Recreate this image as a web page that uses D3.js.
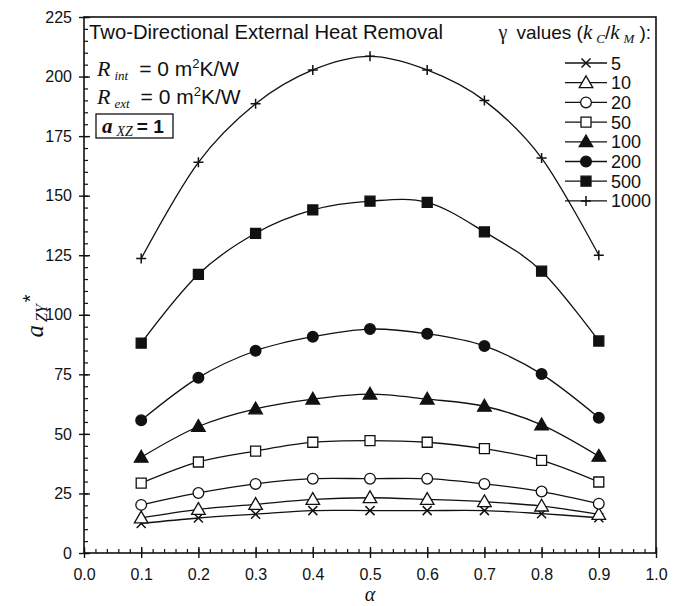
<!DOCTYPE html>
<html><head><meta charset="utf-8">
<script src="https://cdn.jsdelivr.net/npm/d3@7"></script>
<style>
body{margin:0;background:#fff;}
svg{display:block;}
text{font-family:Arial,"Liberation Sans",sans-serif;fill:#111;}
.serif{font-family:"Times New Roman","Liberation Serif",serif;}
</style></head>
<body>
<svg id="chart" width="692" height="606"></svg>
<script>
const alphas = [0.1,0.2,0.3,0.4,0.5,0.6,0.7,0.8,0.9];
const gammaLabels = ["5","10","20","50","100","200","500","1000"];
const g5    = [12.4,14.7,16.3,17.8,17.8,17.8,17.8,16.5,14.8];
const g10   = [14.7,18.3,20.4,22.5,23.2,22.5,21.5,19.7,16.2];
const g20   = [20.2,25.2,29.0,31.2,31.2,31.2,29.0,25.8,20.7];
const g50   = [29.3,38.2,42.8,46.5,47.2,46.5,43.8,38.9,29.8];
const g100  = [40.2,53.1,60.5,64.6,66.7,64.6,61.6,53.8,40.6];
const g200  = [55.7,73.6,84.9,90.8,94.0,92.0,86.9,75.1,56.8];
const g500  = [88.1,117.0,134.2,144.0,147.7,147.2,134.8,118.3,89.0];
const g1000 = [123.6,164.0,188.6,202.8,208.5,202.8,189.9,165.8,125.0];
const seriesValues = [g5,g10,g20,g50,g100,g200,g500,g1000];
const markerTypes = ["x","triOpen","circOpen","sqOpen","triFill","circFill","sqFill","plus"];
const xTicks = [0,0.1,0.2,0.3,0.4,0.5,0.6,0.7,0.8,0.9,1.0];
const yTicks = [0,25,50,75,100,125,150,175,200,225];

const svg = d3.select("#chart");
const x = d3.scaleLinear().domain([0,1]).range([84,656]);
const y = d3.scaleLinear().domain([0,225]).range([553,17]);
const ink = "#111";

// frame
svg.append("rect").attr("x",x(0)).attr("y",y(225)).attr("width",x(1)-x(0)).attr("height",y(0)-y(225))
  .attr("fill","none").attr("stroke",ink).attr("stroke-width",1.6);

// minor ticks inside
const xMinor = d3.range(0,1.0001,0.02);
const yMinor = d3.range(0,225.001,5);
svg.append("g").attr("transform",`translate(0,${y(0)})`)
  .call(d3.axisBottom(x).tickValues(xMinor).tickSize(-4).tickFormat(""))
  .call(g=>{g.select(".domain").remove();g.selectAll("line").attr("stroke",ink).attr("stroke-width",1.2);});
svg.append("g").attr("transform",`translate(${x(0)},0)`)
  .call(d3.axisLeft(y).tickValues(yMinor).tickSize(-4).tickFormat(""))
  .call(g=>{g.select(".domain").remove();g.selectAll("line").attr("stroke",ink).attr("stroke-width",1.2);});
// major ticks crossing + labels
const xAxis = svg.append("g").attr("transform",`translate(0,${y(0)})`)
  .call(d3.axisBottom(x).tickValues(xTicks).tickSize(5).tickPadding(11).tickFormat(d3.format(".1f")));
xAxis.select(".domain").remove();
xAxis.selectAll("line").attr("stroke",ink).attr("stroke-width",1.4).attr("y1",-6);
xAxis.selectAll("text").attr("font-size",16).attr("font-family","Arial").attr("fill","#222");
const yAxis = svg.append("g").attr("transform",`translate(${x(0)},0)`)
  .call(d3.axisLeft(y).tickValues(yTicks).tickSize(5).tickPadding(7).tickFormat(d3.format("d")));
yAxis.select(".domain").remove();
yAxis.selectAll("line").attr("stroke",ink).attr("stroke-width",1.4).attr("x1",6);
yAxis.selectAll("text").attr("font-size",16).attr("font-family","Arial").attr("fill","#222");

// lines
const line = d3.line().x((d,i)=>x(alphas[i])).y(d=>y(d)).curve(d3.curveCatmullRom.alpha(0));
seriesValues.forEach(vals=>{
  svg.append("path").attr("d",line(vals)).attr("fill","none").attr("stroke",ink).attr("stroke-width",1.3);
});

function drawMarker(g,type,cx,cy){
  const sw=1.3;
  if(type==="x"){
    const s=4.5;
    g.append("path").attr("d",`M${cx-s},${cy-s}L${cx+s},${cy+s}M${cx-s},${cy+s}L${cx+s},${cy-s}`)
      .attr("stroke",ink).attr("stroke-width",1.5).attr("fill","none");
  } else if(type==="plus"){
    const s=5;
    g.append("path").attr("d",`M${cx-s},${cy}L${cx+s},${cy}M${cx},${cy-s}L${cx},${cy+s}`)
      .attr("stroke",ink).attr("stroke-width",1.5).attr("fill","none");
  } else {
    let sym, size, fill;
    if(type.startsWith("tri")){sym=d3.symbolTriangle;size=80;}
    else if(type.startsWith("circ")){sym=d3.symbolCircle;size=90;}
    else {sym=d3.symbolSquare;size=100;}
    fill = type.endsWith("Fill") ? ink : "#fff";
    const dy = type.startsWith("tri") ? 1 : 0;
    g.append("path").attr("d",d3.symbol().type(sym).size(size)())
      .attr("transform",`translate(${cx},${cy+dy})`)
      .attr("fill",fill).attr("stroke",ink).attr("stroke-width",sw);
  }
}
const mg = svg.append("g");
seriesValues.forEach((vals,si)=>{
  vals.forEach((v,i)=>drawMarker(mg,markerTypes[si],x(alphas[i]),y(v)));
});

// legend
const legY0 = 63, legDy = 19.7;
gammaLabels.forEach((lab,i)=>{
  const ly = legY0 + i*legDy;
  svg.append("line").attr("x1",565).attr("x2",607).attr("y1",ly).attr("y2",ly).attr("stroke",ink).attr("stroke-width",1.3);
  drawMarker(svg,markerTypes[i],586,ly);
  svg.append("text").attr("x",611).attr("y",ly+6.5).attr("font-size",18).text(lab);
});
// legend header
const hdr = svg.append("text").attr("x",651).attr("y",39).attr("text-anchor","end").attr("font-size",19);
hdr.append("tspan").attr("class","serif").attr("font-size",20).text("γ");
hdr.append("tspan").attr("dx",9).text("values (");
hdr.append("tspan").attr("class","serif").attr("font-style","italic").attr("font-size",21).text("k");
hdr.append("tspan").attr("class","serif").attr("font-style","italic").attr("font-size",13).attr("dx",4).attr("dy",4).text("C");
hdr.append("tspan").attr("dy",-4).text("/");
hdr.append("tspan").attr("class","serif").attr("font-style","italic").attr("font-size",21).text("k");
hdr.append("tspan").attr("class","serif").attr("font-style","italic").attr("font-size",13).attr("dx",4).attr("dy",4).text("M");
hdr.append("tspan").attr("dx",5).attr("dy",-4).text("):");

// title
svg.append("text").attr("x",89).attr("y",39).attr("font-size",20.3).text("Two-Directional External Heat Removal");
function rLine(sub,yy){
  const t = svg.append("text").attr("x",97).attr("y",yy).attr("font-size",21);
  t.append("tspan").attr("class","serif").attr("font-style","italic").attr("font-size",22).text("R");
  t.append("tspan").attr("class","serif").attr("font-style","italic").attr("font-size",13).attr("dx",4).attr("dy",4).text(sub);
  t.append("tspan").attr("dx",11).attr("dy",-4).text("= 0 m");
  t.append("tspan").attr("font-size",13).attr("dy",-8).text("2");
  t.append("tspan").attr("dy",8).text("K/W");
}
rLine("int",76);
rLine("ext",104);
svg.append("rect").attr("x",96).attr("y",114).attr("width",77).attr("height",24).attr("fill","#fff").attr("stroke",ink).attr("stroke-width",1.3);
const ax = svg.append("text").attr("x",102).attr("y",133).attr("font-size",19).attr("font-weight","bold");
ax.append("tspan").attr("class","serif").attr("font-style","italic").attr("font-size",21).text("a");
ax.append("tspan").attr("class","serif").attr("font-style","italic").attr("font-weight","normal").attr("font-size",14).attr("dx",4).attr("dy",3).text("XZ");
ax.append("tspan").attr("dx",4).attr("dy",-3).text("= 1");

// axis titles
svg.append("text").attr("class","serif").attr("x",x(0.5)).attr("y",601).attr("text-anchor","middle")
  .attr("font-style","italic").attr("font-size",20).text("α");
const yl = svg.append("text").attr("transform","translate(43,316) rotate(-90)").attr("text-anchor","middle").attr("font-size",20);
yl.append("tspan").attr("class","serif").attr("font-style","italic").attr("font-size",25).text("a");
yl.append("tspan").attr("class","serif").attr("font-style","italic").attr("font-size",16).attr("dx",3).attr("dy",4).text("ZY");
yl.append("tspan").attr("dx",2).attr("dy",-10).text("*");
</script>
</body></html>
